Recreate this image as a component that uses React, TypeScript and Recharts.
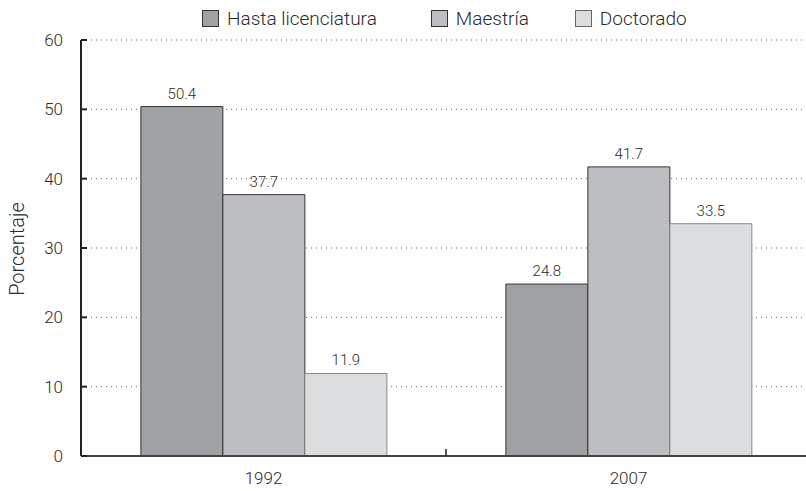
import React from 'react';
import { BarChart, Bar, XAxis, YAxis, CartesianGrid, LabelList } from 'recharts';

const years = ['1992', '2007'];
const hastaLicenciatura = [50.4, 24.8];
const maestria = [37.7, 41.7];
const doctorado = [11.9, 33.5];
const yTicks = [0, 10, 20, 30, 40, 50, 60];

const series = [
  { key: 'hasta', name: 'Hasta licenciatura', fill: '#a0a1a4', stroke: '#333333', gap: 54 },
  { key: 'maestria', name: 'Maestría', fill: '#bdbec1', stroke: '#333333', gap: 46 },
  { key: 'doctorado', name: 'Doctorado', fill: '#dcdddf', stroke: '#888888', gap: 0 },
];

const data = years.map((year, i) => ({
  year,
  hasta: hastaLicenciatura[i],
  maestria: maestria[i],
  doctorado: doctorado[i],
}));

const FONT = 'Roboto, "Liberation Sans", sans-serif';
const CHART_W = 814;
const CHART_H = 491;
const MARGIN = { top: 40, right: 3, left: 0, bottom: 5 };
const Y_AXIS_W = 81;
const BAND = (CHART_W - MARGIN.left - MARGIN.right - Y_AXIS_W) / years.length;

const YTick = (props: any) => {
  const { y, payload } = props;
  return (
    <g>
      <line x1={81} x2={87} y1={y} y2={y} stroke="#222" strokeWidth={2} />
      <text x={63} y={y} textAnchor="end" dominantBaseline="central" fontSize={17} fill="#2a2a2a" fontFamily={FONT} fontWeight={300}>
        {payload.value}
      </text>
    </g>
  );
};

const XTick = (props: any) => {
  const { x, payload, index } = props;
  return (
    <g>
      {index === 0 && (
        <line x1={x + BAND / 2} x2={x + BAND / 2} y1={449} y2={456} stroke="#222" strokeWidth={1.5} />
      )}
      <text x={x} y={478} textAnchor="middle" dominantBaseline="central" fontSize={17} fill="#2a2a2a" fontFamily={FONT} fontWeight={300}>
        {payload.value}
      </text>
    </g>
  );
};

const YLabel = () => (
  <text
    x={17}
    y={249}
    transform="rotate(-90 17 249)"
    textAnchor="middle"
    dominantBaseline="central"
    fontSize={20}
    fill="#2a2a2a"
    fontFamily={FONT}
    fontWeight={300}
  >
    Porcentaje
  </text>
);

export default function App() {
  return (
    <div style={{ position: 'relative', width: 806, height: 491, overflow: 'hidden', background: '#fff' }}>
      <style>{'body{margin:0;}'}</style>
      <div
        style={{
          position: 'absolute',
          top: 7,
          left: 202,
          display: 'flex',
          alignItems: 'center',
          fontFamily: FONT,
          fontWeight: 300,
          fontSize: 19,
          color: '#2a2a2a',
          whiteSpace: 'nowrap',
          zIndex: 2,
        }}
      >
        {series.map((s) => (
          <div key={s.key} style={{ display: 'flex', alignItems: 'center', marginRight: s.gap }}>
            <span
              style={{
                display: 'inline-block',
                width: 15,
                height: 15,
                background: s.fill,
                border: `1px solid ${s.stroke === '#888888' ? '#666' : '#333'}`,
                marginRight: 8,
              }}
            />
            <span>{s.name}</span>
          </div>
        ))}
      </div>
      <BarChart width={CHART_W} height={CHART_H} data={data} margin={MARGIN} barCategoryGap="16.4%" barGap={0}>
        <CartesianGrid vertical={false} stroke="#666" strokeDasharray="1 4" />
        <XAxis
          dataKey="year"
          height={30}
          axisLine={{ stroke: '#444', strokeWidth: 2 }}
          tickLine={false}
          tick={<XTick />}
          interval={0}
        />
        <YAxis
          width={Y_AXIS_W}
          domain={[0, 60]}
          ticks={yTicks}
          axisLine={{ stroke: '#222', strokeWidth: 2 }}
          tickLine={false}
          tick={<YTick />}
          label={<YLabel />}
          interval={0}
        />
        {series.map((s) => (
          <Bar key={s.key} dataKey={s.key} name={s.name} fill={s.fill} stroke={s.stroke} strokeWidth={1} isAnimationActive={false}>
            <LabelList dataKey={s.key} position="top" offset={8} fontSize={15} fill="#2a2a2a" fontFamily={FONT} fontWeight={300} />
          </Bar>
        ))}
      </BarChart>
    </div>
  );
}
